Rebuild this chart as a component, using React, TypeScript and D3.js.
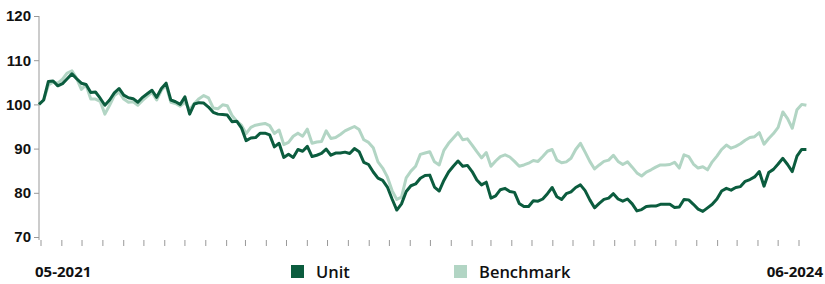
import React, { useEffect, useRef } from "react";
import * as d3 from "d3";

// weekly values, first week ends 28-04-2021
const unitValues = [
  100, 101, 105.2, 105.3, 104.2, 104.7, 105.8, 106.9, 105.8, 104.8,
  104.5, 102.7, 102.8, 101.4, 99.8, 101, 102.6, 103.6, 102.1, 101.5,
  101.3, 100.5, 101.6, 102.4, 103.2, 101.6, 103.6, 104.8, 101, 100.6,
  100, 101.7, 97.8, 100.1, 100.4, 100.3, 99.4, 98.2, 97.8, 97.7,
  97.6, 96.1, 96.2, 94.7, 91.8, 92.4, 92.5, 93.5, 93.5, 93.1,
  90.4, 91.2, 88, 88.7, 88, 89.8, 89.4, 90.5, 88.2, 88.5,
  88.9, 89.9, 88.5, 89, 89, 89.2, 88.9, 90, 89.3, 86.9,
  86.4, 84.7, 83.3, 82.8, 81.3, 78.6, 76.1, 77.5, 80.3, 81.6,
  82, 83.3, 83.9, 84, 81.3, 80.4, 82.8, 84.7, 86, 87.2,
  86, 86.2, 84.8, 82.9, 81.8, 82.4, 78.8, 79.3, 80.7, 81,
  80.3, 80.1, 77.6, 76.9, 76.9, 78.2, 78.1, 78.6, 79.8, 81.2,
  79.1, 78.5, 79.8, 80.2, 81.2, 81.8, 80.5, 78.4, 76.6, 77.6,
  78.5, 78.8, 79.8, 78.6, 78.1, 78.6, 77.5, 75.9, 76.2, 76.9,
  77, 77, 77.4, 77.4, 77.4, 76.7, 76.8, 78.5, 78.4, 77.4,
  76.3, 75.8, 76.6, 77.4, 78.6, 80.4, 81, 80.6, 81.2, 81.4,
  82.6, 83, 83.6, 84.8, 81.5, 84.6, 85.3, 86.5, 87.8, 86.4,
  84.8, 88.3, 89.8, 89.8,
];

const benchmarkValues = [
  100, 101, 104.4, 105, 104.8, 105.7, 107.1, 107.6, 105.9, 103.4,
  104.4, 101.2, 101.2, 100.7, 97.8, 99.8, 102, 102.8, 101.2, 100.5,
  100.6, 99.8, 100.9, 101.8, 102.7, 101, 103.2, 104.3, 100.5, 100.2,
  99.6, 100.5, 98.8, 100.2, 101.3, 102, 101.5, 99.2, 99, 99.9,
  99.7, 97.5, 96.2, 95.3, 93.4, 94.8, 95.3, 95.5, 95.7, 95.2,
  93.4, 94.2, 90.9, 91.4, 92.8, 93.5, 92.8, 94.4, 91.2, 91.5,
  91.6, 94, 92.3, 92.5, 93.2, 94, 94.5, 95, 94.3, 92,
  91.4, 90.2, 87, 85.6, 83.6, 80.5, 78.5, 79, 83.4, 84.9,
  86, 88.7, 89, 89.3, 87, 86.3, 89.6, 91.2, 92.4, 93.6,
  92, 92.2, 90.8, 89.3, 87.9, 89.1, 86, 87.2, 88.2, 88.6,
  88.1, 87.1, 86, 86.3, 86.7, 87.3, 87.1, 88.2, 89.4, 89.8,
  87.4, 86.8, 87, 87.8, 89.8, 91.2, 89.2, 87.1, 85.4, 86.3,
  87.1, 87.4, 88.5, 87.1, 86.4, 87, 85.8, 84.5, 83.8, 84.7,
  85.2, 85.8, 86.3, 86.3, 86.4, 86.9, 85.6, 88.6, 88.2, 86.5,
  85.6, 85.9, 85.2, 87, 88.3, 89.8, 90.8, 90.1, 90.5, 91.1,
  91.9, 92.5, 92.7, 93.6, 91, 92.3, 93.4, 94.8, 98.3, 96.8,
  94.6, 98.8, 100, 99.8,
];

const yTicks = [70, 80, 90, 100, 110, 120];
const firstLabel = "05-2021";
const lastLabel = "06-2024";
const seriesNames = ["Unit", "Benchmark"];

const W = 825;
const H = 284;

const Chart = () => {
  const ref = useRef<SVGSVGElement>(null);

  useEffect(() => {
    const svg = d3.select(ref.current);
    svg.selectAll("*").remove();

    const start = new Date(2021, 3, 28);
    const dates = unitValues.map((_, i) => d3.timeDay.offset(start, i * 7));

    const x = d3
      .scaleTime()
      .domain([new Date(2021, 4, 1), new Date(2024, 5, 1)])
      .range([41, 799]);
    const y = d3.scaleLinear().domain([70, 120]).range([237, 16]);

    const dark = "#0b5c3e";
    const light = "#b2d5c4";

    // y axis
    const yAxis = svg
      .append("g")
      .attr("transform", "translate(39,0)")
      .call(d3.axisLeft(y).tickValues(yTicks).tickSize(5).tickPadding(3));
    yAxis.select(".domain").attr("stroke", "#999").attr("d", "M0,16V240");
    yAxis.selectAll(".tick line").attr("stroke", "#999");
    yAxis
      .selectAll(".tick text")
      .attr("fill", "#111")
      .style("font-family", "'Liberation Sans', Arial, sans-serif")
      .style("font-weight", "bold")
      .style("font-size", "15px");

    // monthly ticks along the bottom, no baseline
    const months = d3.timeMonth.range(new Date(2021, 4, 1), new Date(2024, 5, 2));
    svg
      .append("g")
      .selectAll("line")
      .data(months)
      .enter()
      .append("line")
      .attr("x1", (d) => x(d))
      .attr("x2", (d) => x(d))
      .attr("y1", 240)
      .attr("y2", 246)
      .attr("stroke", "#999");

    const line = d3
      .line<number>()
      .x((_, i) => x(dates[i]))
      .y((d) => y(d))
      .curve(d3.curveLinear);

    svg
      .append("path")
      .datum(benchmarkValues)
      .attr("fill", "none")
      .attr("stroke", light)
      .attr("stroke-width", 3)
      .attr("stroke-linejoin", "round")
      .attr("d", line);

    svg
      .append("path")
      .datum(unitValues)
      .attr("fill", "none")
      .attr("stroke", dark)
      .attr("stroke-width", 3)
      .attr("stroke-linejoin", "round")
      .attr("d", line);

    const labelFont = "'Open Sans', 'Noto Sans', sans-serif";

    svg
      .append("text")
      .attr("x", 35)
      .attr("y", 277)
      .attr("fill", "#111")
      .style("font-family", labelFont)
      .style("font-weight", "bold")
      .style("font-size", "15px")
      .text(firstLabel);

    svg
      .append("text")
      .attr("x", 823)
      .attr("y", 277)
      .attr("text-anchor", "end")
      .attr("fill", "#111")
      .style("font-family", labelFont)
      .style("font-weight", "bold")
      .style("font-size", "15px")
      .text(lastLabel);

    // legend
    const legendX = [291, 454];
    const colors = [dark, light];
    const legend = svg
      .append("g")
      .selectAll("g")
      .data(seriesNames)
      .enter()
      .append("g")
      .attr("transform", (_, i) => `translate(${legendX[i]},265)`);
    legend
      .append("rect")
      .attr("width", 13)
      .attr("height", 13)
      .attr("fill", (_, i) => colors[i]);
    legend
      .append("text")
      .attr("x", 25)
      .attr("y", 13)
      .attr("fill", "#111")
      .style("font-family", labelFont)
      .style("font-weight", 600)
      .style("font-size", "16.5px")
      .text((d) => d);
  }, []);

  return <svg ref={ref} width={W} height={H} style={{ display: "block" }} />;
};

export default function App() {
  return (
    <div style={{ position: "absolute", left: 0, top: 0 }}>
      <Chart />
    </div>
  );
}
